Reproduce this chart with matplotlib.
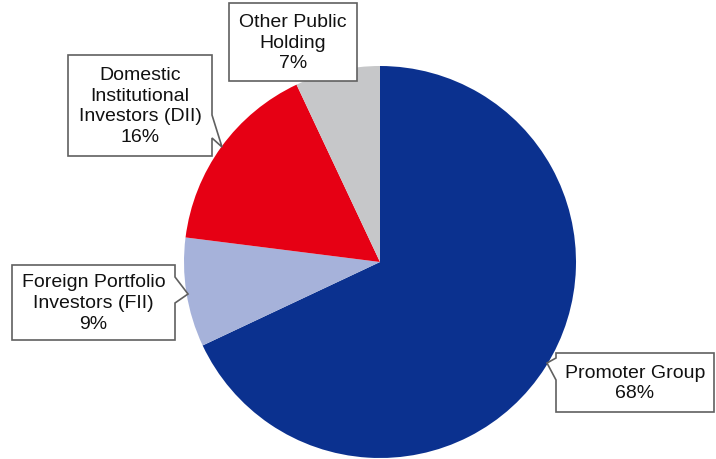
import matplotlib
matplotlib.use("Agg")
import matplotlib.pyplot as plt
from matplotlib.patches import Polygon

plt.rcParams['font.family'] = ['Liberation Sans', 'DejaVu Sans']

# data
labels = ['Promoter Group', 'Foreign Portfolio\nInvestors (FII)',
          'Domestic\nInstitutional\nInvestors (DII)', 'Other Public\nHolding']
shares = [68, 9, 16, 7]
colors = ['#0B318F', '#A6B2DA', '#E60014', '#C6C7C9']

W, H = 716, 459
fig = plt.figure(figsize=(W / 100, H / 100), dpi=100)
ax = fig.add_axes([0, 0, 1, 1])

# pie in pixel coords (y measured from bottom)
cx, cy, r = 380, H - 262, 196
ax.pie(shares, colors=colors, startangle=90, counterclock=False,
       center=(cx, cy), radius=r, frame=True,
       wedgeprops=dict(linewidth=0))
ax.set_xlim(0, W)
ax.set_ylim(0, H)
ax.set_aspect('equal')
ax.axis('off')

# callout boxes: (left, top, right, bottom) in image pixels, pointer outline
def callout(box, ptr=None, side=None):
    x0, y0, x1, y1 = box
    pts = [(x0, y0), (x1, y0)]
    if side == 'right':
        pts += [(x1, ptr[0]), ptr[2], (x1, ptr[1])]
    pts += [(x1, y1), (x0, y1)]
    if side == 'left':
        pts += [(x0, ptr[1]), ptr[2], (x0, ptr[0])]
    pts = [(x, H - y) for x, y in pts]
    ax.add_patch(Polygon(pts, closed=True, facecolor='white',
                         edgecolor='#606060', linewidth=1.2, zorder=3))

boxes = [
    ((556, 353, 714, 412), (358, 380, (547, 363)), 'left'),
    ((12, 265, 175, 340), (277, 303, (188, 294)), 'right'),
    ((68, 55, 212, 156), (115, 138, (222, 147)), 'right'),
    ((229, 3, 357, 81), None, None),
]

for (box, ptr, side), lab, val in zip(boxes, labels, shares):
    callout(box, ptr, side)
    x0, y0, x1, y1 = box
    ax.text((x0 + x1) / 2, H - (y0 + y1) / 2 - 1, f'{lab}\n{val}%',
            ha='center', va='center', fontsize=14, linespacing=1.3,
            color='#111111', zorder=4)

fig.savefig('out.png', dpi=100)
